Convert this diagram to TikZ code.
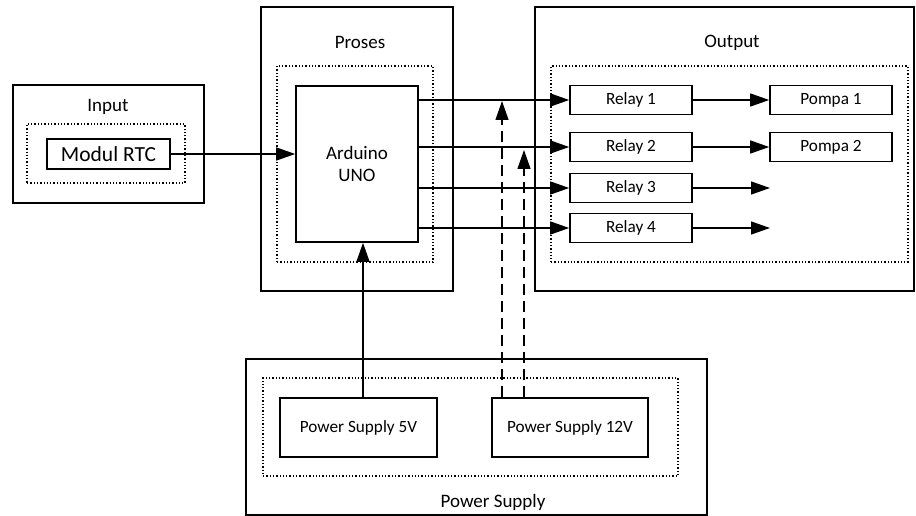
\documentclass[tikz,border=0pt]{standalone}
\usepackage{fontspec}
\setmainfont{Carlito}
\usetikzlibrary{arrows.meta}

\begin{document}
\begin{tikzpicture}[x=1pt,y=-1pt,
  grup/.style={draw,line width=1.6pt,inner sep=0pt},
  titik/.style={draw,line width=1.3pt,dotted,inner sep=0pt},
  blok/.style={draw,line width=1.6pt,inner sep=0pt,minimum width=122pt,minimum height=29pt,font=\fontsize{17.2}{20}\selectfont},
  judul/.style={font=\fontsize{19}{22}\selectfont},
  panah/.style={line width=1.3pt,-{Triangle[length=19pt,width=13pt]}}]
\useasboundingbox (0,0) rectangle (916,516);
% kelompok
\node (inbox)[grup,minimum width=191pt,minimum height=118pt] at (108.5,144) {};
\node (indot)[titik,minimum width=158pt,minimum height=59pt] at (106,153.5) {};
\node (intxt)[judul] at (108,107) {Input};
\node (prbox)[grup,minimum width=192pt,minimum height=284pt] at (357,149) {};
\node (prdot)[titik,minimum width=156pt,minimum height=196pt] at (355,164) {};
\node (prtxt)[judul] at (360,42) {Proses};
\node (outbox)[grup,minimum width=379pt,minimum height=284pt] at (724.5,149) {};
\node (outdot)[titik,minimum width=357pt,minimum height=196pt] at (729.5,164) {};
\node (outtxt)[judul] at (732,43) {Output};
\node (psbox)[grup,minimum width=461pt,minimum height=156pt] at (476.5,437) {};
\node (psdot)[titik,minimum width=415pt,minimum height=98pt] at (470.5,427) {};
\node (pstxt)[judul] at (493,502) {Power Supply};
% blok
\node (rtc)[blok,minimum width=123pt,minimum height=30pt,font=\fontsize{21.5}{24}\selectfont] at (108.5,154) {Modul RTC};
\node (uno)[blok,minimum height=156pt,judul,align=center] at (357,164) {Arduino\\UNO};
\foreach \i/\y in {1/100,2/147,3/188,4/228}
\node (r\i)[blok] at (631,\y) {Relay \i};
\foreach \i/\y in {1/100,2/147}
\node (p\i)[blok] at (831,\y) {Pompa \i};
\node (ps5)[blok,minimum width=157pt,minimum height=59pt] at (358.5,427.5) {Power Supply 5V};
\node (ps12)[blok,minimum width=156pt,minimum height=59pt] at (570,427.5) {Power Supply 12V};
\coordinate (e3) at (770,188);
\coordinate (e4) at (770,228);
\coordinate (d1) at (502,101);
\coordinate (d2) at (524,150);
% panah
\draw[panah] (rtc) -- (rtc -| uno.west);
\foreach \i in {1,2,3,4}
\draw[panah] (uno.east |- r\i) -- (r\i);
\foreach \i in {1,2}
\draw[panah] (r\i) -- (p\i);
\foreach \i in {3,4}
\draw[panah] (r\i) -- (e\i);
\draw[panah] ([xshift=4.5pt]ps5.north) -- ([xshift=4.5pt]ps5.north |- uno.south);
\foreach \d in {d1,d2}
\draw[panah,dash pattern=on 11pt off 6pt] (ps12.north -| \d) -- (\d);
\end{tikzpicture}
\end{document}
